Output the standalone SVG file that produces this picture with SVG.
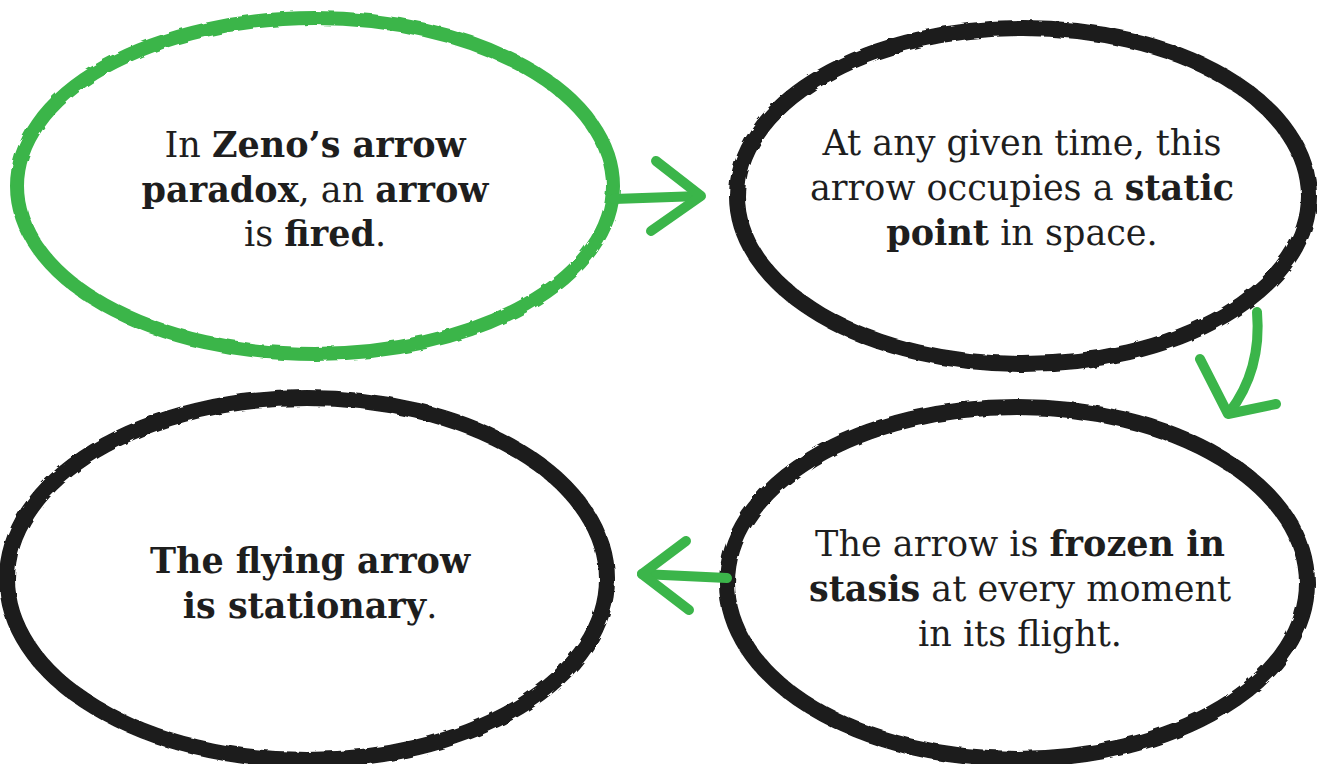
<svg xmlns="http://www.w3.org/2000/svg" width="1317" height="764" viewBox="0 0 1317 764">
<style>
.ring{fill:none;stroke:#1a1a1a;stroke-width:16}
.ring.green{stroke:#3bb54a;stroke-width:14}
.conn{fill:none;stroke:#3bb54a;stroke-width:10;stroke-linecap:round;stroke-linejoin:round}
text{font-family:"DejaVu Serif","Liberation Serif",serif;font-size:35px;fill:#1e1e1e;text-anchor:middle}
.b{font-weight:bold}
</style>
<defs>
<filter id="rough" x="-5%" y="-5%" width="110%" height="110%">
<feTurbulence type="fractalNoise" baseFrequency="0.08" numOctaves="2" seed="3" result="n"/>
<feDisplacementMap in="SourceGraphic" in2="n" scale="4"/>
</filter>
</defs>
<rect width="1317" height="764" fill="#ffffff"/>
<g id="node1">
<ellipse class="ring green" cx="315" cy="186" rx="298" ry="168" filter="url(#rough)"/>
<text x="315" y="157">In <tspan class="b">Zeno’s arrow</tspan></text>
<text x="315" y="202"><tspan class="b">paradox</tspan>, an <tspan class="b">arrow</tspan></text>
<text x="315" y="246">is <tspan class="b">fired</tspan>.</text>
</g>
<g id="node2">
<ellipse class="ring" cx="1023" cy="196" rx="286" ry="168" filter="url(#rough)"/>
<text x="1022" y="155">At any given time, this</text>
<text x="1022" y="200">arrow occupies a <tspan class="b">static</tspan></text>
<text x="1022" y="245"><tspan class="b">point</tspan> in space.</text>
</g>
<g id="node3">
<ellipse class="ring" cx="1017" cy="583" rx="290" ry="176" filter="url(#rough)"/>
<text x="1020" y="556">The arrow is <tspan class="b">frozen in</tspan></text>
<text x="1020" y="601"><tspan class="b">stasis</tspan> at every moment</text>
<text x="1020" y="646">in its flight.</text>
</g>
<g id="node4">
<ellipse class="ring" cx="307" cy="579" rx="300" ry="181" filter="url(#rough)"/>
<text x="310" y="573" class="b">The flying arrow</text>
<text x="310" y="618"><tspan class="b">is stationary</tspan>.</text>
</g>
<g id="connectors">
<path class="conn" d="M614 199 L700 196"/>
<path class="conn" d="M656 161 L701 196 L651 231"/>
<path class="conn" d="M1257 312 Q1262 370 1229 413"/>
<path class="conn" d="M1200 359 L1228 414 L1276 404"/>
<path class="conn" d="M727 578 L642 574"/>
<path class="conn" d="M686 541 L642 574 L689 610"/>
</g>
</svg>
